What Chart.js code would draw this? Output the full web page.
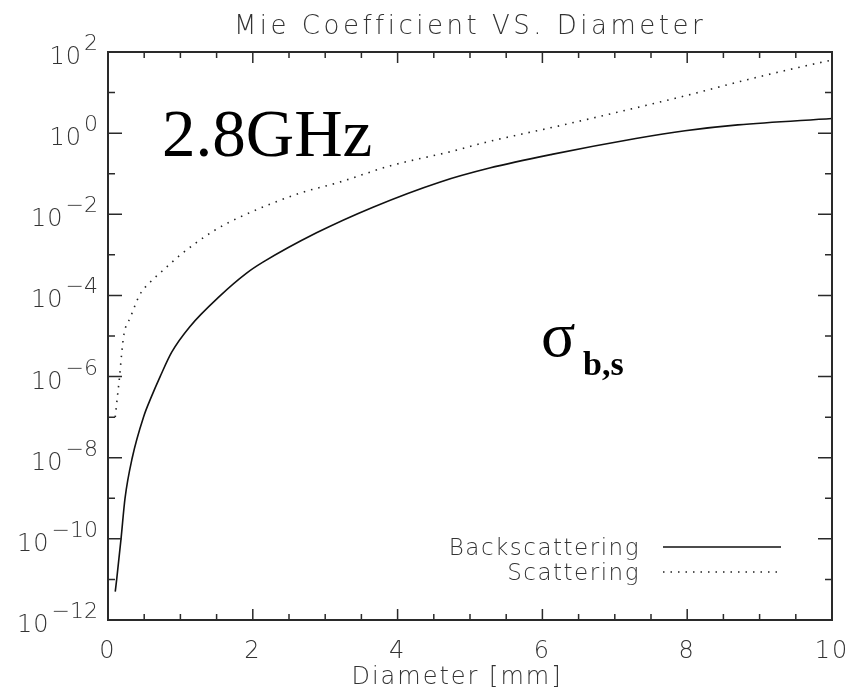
<!DOCTYPE html>
<html>
<head>
<meta charset="utf-8">
<script src="https://cdn.jsdelivr.net/npm/chart.js@4.4.1/dist/chart.umd.min.js"></script>
<style>
  html, body { margin: 0; padding: 0; background: #fff; }
</style>
</head>
<body>
<canvas id="mieChart" width="850" height="691"></canvas>
<script>
// values (diameter in mm, cross section)
const backDiameter = [0.1, 0.12, 0.18, 0.235, 0.335, 0.49, 0.6, 0.72, 0.88, 1.13, 1.54, 1.91, 2.14, 2.88, 3.66, 4.58, 5.27, 6.13, 7.29, 7.97, 8.7, 10];
const backSigma = [5.0e-12, 1e-11, 1e-10, 1e-9, 1e-8, 1e-7, 3.2e-7, 1e-6, 4.0e-6, 1.7e-5, 9.5e-5, 3.5e-4, 6.6e-4, 3.5e-3, 1.5e-2, 6.2e-2, 0.138, 0.30, 0.74, 1.15, 1.6, 2.3];

const scatDiameter = [0.1, 0.13, 0.16, 0.19, 0.22, 0.31, 0.44, 0.58, 0.75, 1.0, 1.45, 1.82, 2.65, 3.2, 3.89, 4.76, 5.21, 6.33, 7.97, 8.84, 9.9, 10];
const scatSigma = [1e-7, 3.2e-7, 1e-6, 3.9e-6, 1.1e-5, 2.9e-5, 1.05e-4, 2.1e-4, 4.0e-4, 1e-3, 3.8e-3, 8.5e-3, 3.3e-2, 6.2e-2, 0.155, 0.36, 0.59, 1.66, 8.3, 21, 58, 63];

const seriesNames = ['Backscattering', 'Scattering'];
const xTickValues = [0, 2, 4, 6, 8, 10];
const yExponents = [-12, -10, -8, -6, -4, -2, 0, 2];

const ink = '#2a2a2a';
const hershey = '"DejaVu Sans", "Liberation Sans", sans-serif';

function toPoints(xs, ys) {
  return xs.map((x, i) => ({ x: x, y: ys[i] }));
}

function txt(ctx, s, x, y, font, align, spacing) {
  ctx.font = font;
  ctx.textAlign = align;
  ctx.letterSpacing = spacing || '0px';
  ctx.fillText(s, x, y);
  ctx.letterSpacing = '0px';
}

// frame, inward ticks, labels, legend and annotations in IDL style
const idlAxes = {
  id: 'idlAxes',
  afterDraw(chart) {
    const ctx = chart.ctx;
    const a = chart.chartArea;
    const xs = chart.scales.x;
    const ys = chart.scales.y;
    ctx.save();
    ctx.strokeStyle = ink;
    ctx.fillStyle = ink;
    ctx.lineWidth = 2;
    ctx.strokeRect(a.left, a.top, a.right - a.left, a.bottom - a.top);

    ctx.lineWidth = 1.5;
    ctx.beginPath();
    for (let v = 0.5; v < 10; v += 0.5) {
      const px = xs.getPixelForValue(v);
      const len = (v % 2 === 0) ? 11 : 6;
      ctx.moveTo(px, a.bottom); ctx.lineTo(px, a.bottom - len);
      ctx.moveTo(px, a.top); ctx.lineTo(px, a.top + len);
    }
    for (let e = -11; e < 2; e++) {
      const py = ys.getPixelForValue(Math.pow(10, e));
      const len = (e % 2 === 0) ? 14 : 7;
      ctx.moveTo(a.left, py); ctx.lineTo(a.left + len, py);
      ctx.moveTo(a.right, py); ctx.lineTo(a.right - len, py);
    }
    ctx.stroke();

    ctx.textBaseline = 'alphabetic';
    ctx.fillStyle = '#333';
    // x tick labels
    xTickValues.forEach(v => {
      txt(ctx, String(v), xs.getPixelForValue(v), a.bottom + 38, '200 24px ' + hershey, 'center', '2px');
    });
    // y tick labels 10^n
    yExponents.forEach(e => {
      const py = ys.getPixelForValue(Math.pow(10, e));
      const ex = (e < 0 ? '\u2212' + (-e) : String(e));
      ctx.font = '200 22px ' + hershey;
      const w = ctx.measureText(ex).width;
      txt(ctx, ex, 98, py - 2, '200 22px ' + hershey, 'right');
      txt(ctx, '10', 98 - w - 2, py + 12, '200 24px ' + hershey, 'right', '1px');
    });

    // titles
    txt(ctx, 'Mie Coefficient VS. Diameter', (a.left + a.right) / 2, 34, '200 26px ' + hershey, 'center', '3.5px');
    txt(ctx, 'Diameter [mm]', 457, 684, '200 24px ' + hershey, 'center', '2px');

    // legend
    chart.data.datasets.forEach((ds, i) => {
      const yy = 547 + i * 25;
      txt(ctx, ds.label, 640, yy + 8, '200 23px ' + hershey, 'right', '1.5px');
      ctx.save();
      ctx.strokeStyle = ds.borderColor;
      ctx.lineWidth = ds.borderWidth;
      ctx.setLineDash(ds.borderDash || []);
      ctx.beginPath();
      ctx.moveTo(663, yy); ctx.lineTo(781, yy);
      ctx.stroke();
      ctx.restore();
    });

    // annotations
    ctx.fillStyle = '#000';
    txt(ctx, '2.8GHz', 162, 156, '67px "Liberation Serif", serif', 'left');
    txt(ctx, '\u03c3', 541, 356, '64px "Liberation Serif", serif', 'left');
    txt(ctx, 'b,s', 583, 375, 'bold 34px "Liberation Serif", serif', 'left');
    ctx.restore();
  }
};

new Chart(document.getElementById('mieChart'), {
  type: 'line',
  data: {
    datasets: [{
      label: seriesNames[0],
      data: toPoints(backDiameter, backSigma),
      borderColor: '#111',
      borderWidth: 1.6,
      pointRadius: 0,
      cubicInterpolationMode: 'monotone',
      fill: false
    }, {
      label: seriesNames[1],
      data: toPoints(scatDiameter, scatSigma),
      borderColor: '#222',
      borderWidth: 1.6,
      borderDash: [1.5, 6],
      pointRadius: 0,
      cubicInterpolationMode: 'monotone',
      fill: false
    }]
  },
  options: {
    responsive: false,
    animation: false,
    layout: { padding: { top: 52, right: 18, left: 0, bottom: 0 } },
    plugins: {
      legend: { display: false },
      title: { display: false },
      tooltip: { enabled: false }
    },
    scales: {
      x: {
        type: 'linear',
        min: 0,
        max: 10,
        ticks: { display: false },
        grid: { display: false, drawTicks: false },
        border: { display: false },
        afterFit(s) { s.height = 71; }
      },
      y: {
        type: 'logarithmic',
        min: 1e-12,
        max: 1e2,
        ticks: { display: false },
        grid: { display: false, drawTicks: false },
        border: { display: false },
        afterFit(s) { s.width = 108; }
      }
    }
  },
  plugins: [idlAxes]
});
</script>
</body>
</html>
